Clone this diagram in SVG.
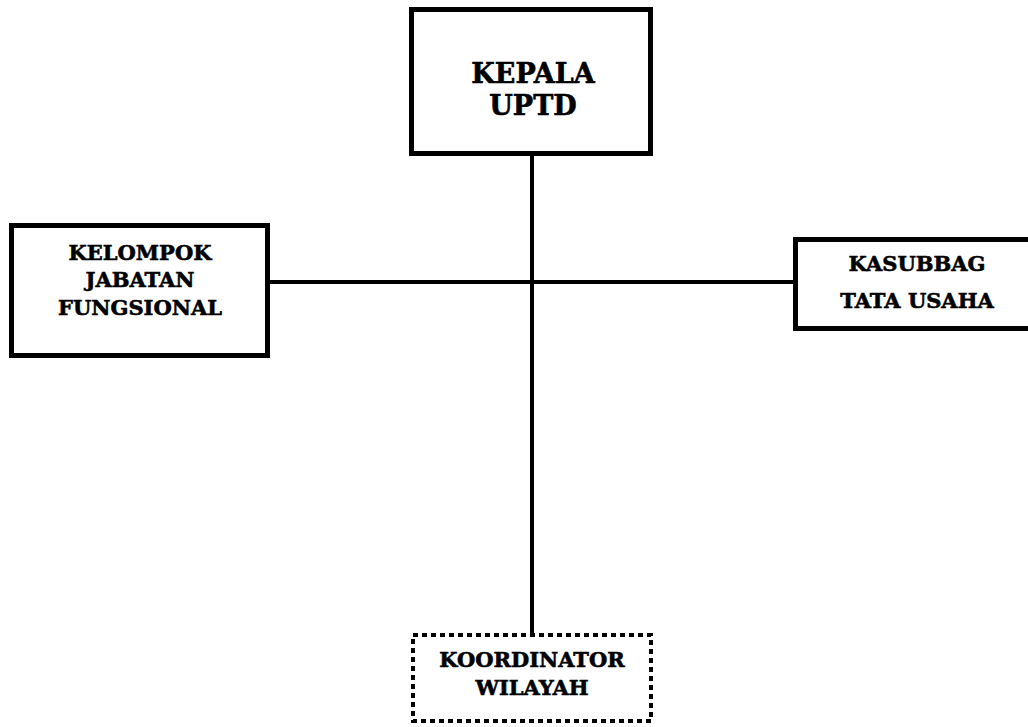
<svg xmlns="http://www.w3.org/2000/svg" width="1028" height="727" viewBox="0 0 1028 727">
<style>
.box{fill:#fff;stroke:#000;stroke-width:5}
.dot{fill:#fff;stroke:#000;stroke-width:4;stroke-dasharray:5 4}
.ln{stroke:#000;stroke-width:4;fill:none}
text{font-family:"DejaVu Serif","Liberation Serif",serif;font-weight:bold;text-anchor:middle;fill:#000;stroke:#000;stroke-width:0.6}
.big{font-size:27px}
.sm{font-size:21px}
</style>
<rect width="1028" height="727" fill="#fff"/>
<g id="connectors">
<line class="ln" x1="532" y1="156" x2="532" y2="633"/>
<line class="ln" x1="270" y1="282" x2="795" y2="282"/>
</g>
<g id="kepala">
<rect class="box" x="411.5" y="9.5" width="239" height="144"/>
<text class="big" x="533" y="83">KEPALA</text>
<text class="big" x="533" y="115">UPTD</text>
</g>
<g id="kelompok">
<rect class="box" x="11.5" y="225.5" width="256" height="130"/>
<text class="sm" x="140" y="260">KELOMPOK</text>
<text class="sm" x="140" y="287">JABATAN</text>
<text class="sm" x="140" y="315">FUNGSIONAL</text>
</g>
<g id="kasubbag">
<rect class="box" x="795.5" y="239.5" width="240" height="89"/>
<text class="sm" x="917" y="271">KASUBBAG</text>
<text class="sm" x="917" y="308">TATA USAHA</text>
</g>
<g id="koordinator">
<rect class="dot" x="413" y="635" width="238" height="86"/>
<text class="sm" x="532" y="667">KOORDINATOR</text>
<text class="sm" x="532" y="695">WILAYAH</text>
</g>
</svg>
